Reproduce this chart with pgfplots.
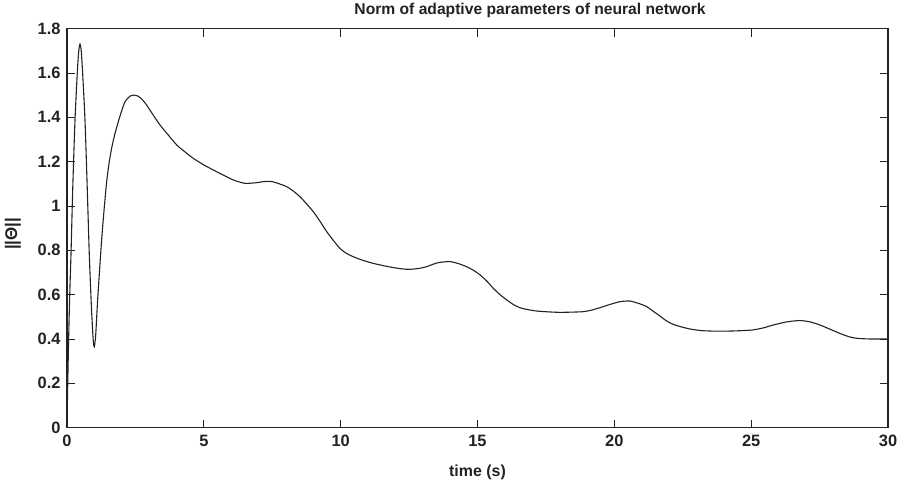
\documentclass[border=0pt]{standalone}
\usepackage{fontspec}
\setmainfont{Liberation Sans}
\usepackage{pgfplots}
\pgfplotsset{compat=1.18}

\definecolor{ink}{HTML}{222222}

\begin{document}
\begin{tikzpicture}
\begin{axis}[
    scale only axis,
    width=821bp,
    height=399bp,
    xmin=0, xmax=30,
    ymin=0, ymax=1.8,
    xtick={0,5,10,15,20,25,30},
    ytick={0,0.2,0.4,0.6,0.8,1,1.2,1.4,1.6,1.8},
    yticklabels={0,0.2,0.4,0.6,0.8,1,1.2,1.4,1.6,1.8},
    tick align=inside,
    major tick length=8bp,
    axis line style={ink, line width=1.2bp},
    tick style={ink, line width=0.8bp},
    /pgf/number format/assume math mode=true,
    tick label style={font=\fontsize{16.5}{18}\selectfont\bfseries, text=ink},
    xticklabel style={yshift=-4bp},
    yticklabel style={xshift=-3bp},
    title={Norm of adaptive parameters of neural network},
    title style={at={(axis description cs:0.564,1.02)}, anchor=base,
        font=\fontsize{15.7}{18}\selectfont\bfseries, text=ink},
    xlabel={time (s)},
    xlabel style={at={(axis description cs:0.5,-0.1228)}, anchor=base,
        font=\fontsize{16}{18}\selectfont\bfseries, text=ink},
    ylabel={||Θ||},
    ylabel style={at={(axis description cs:-0.0658,0.486)}, anchor=center,
        rotate=0, font=\fontsize{17}{18}\selectfont\bfseries, text=ink},
]
\addplot[ink, line width=1.1bp, smooth, tension=0.4] coordinates {
    (0,0) (0.02,0.15) (0.06,0.4) (0.1,0.6) (0.15,0.8) (0.21,1.08)
    (0.29,1.38) (0.38,1.61) (0.43,1.70) (0.475,1.73) (0.52,1.70)
    (0.58,1.58) (0.66,1.38) (0.74,1.08) (0.815,0.78) (0.89,0.55)
    (0.96,0.39) (1.0,0.365) (1.05,0.42) (1.11,0.555) (1.19,0.71)
    (1.27,0.854) (1.36,0.99) (1.45,1.11) (1.54,1.195) (1.63,1.26)
    (1.75,1.325) (1.875,1.38) (2.0,1.43) (2.12,1.47) (2.3,1.495)
    (2.45,1.50) (2.6,1.495) (2.75,1.48) (2.91,1.455) (3.15,1.41)
    (3.40,1.365) (3.7,1.32) (4.01,1.275) (4.3,1.245) (4.61,1.215)
    (5.0,1.185) (5.35,1.162) (5.7,1.14) (6.08,1.117) (6.5,1.102)
    (6.93,1.105) (7.2,1.11) (7.48,1.11) (7.75,1.10) (8.03,1.087)
    (8.27,1.067) (8.51,1.042) (8.75,1.01) (9.0,0.974) (9.25,0.93)
    (9.49,0.884) (9.73,0.845) (9.97,0.809) (10.2,0.787) (10.46,0.771)
    (10.8,0.755) (11.19,0.741) (11.55,0.731) (11.92,0.722) (12.25,0.716)
    (12.53,0.714) (12.9,0.719) (13.14,0.726) (13.38,0.737) (13.6,0.745)
    (13.99,0.749) (14.3,0.74) (14.60,0.726) (14.85,0.71) (15.09,0.689)
    (15.35,0.66) (15.58,0.628) (15.82,0.6) (16.07,0.576) (16.3,0.556)
    (16.55,0.541) (16.85,0.532) (17.16,0.526) (17.6,0.522) (18.01,0.520)
    (18.45,0.521) (18.86,0.523) (19.17,0.53) (19.47,0.541) (19.85,0.556)
    (20.2,0.568) (20.57,0.571) (20.94,0.558) (21.18,0.546) (21.42,0.525)
    (21.67,0.503) (21.91,0.481) (22.15,0.466) (22.40,0.456) (22.8,0.444)
    (23.25,0.437) (23.8,0.435) (24.35,0.436) (24.75,0.438) (25.08,0.441)
    (25.45,0.45) (25.81,0.463) (26.3,0.477) (26.78,0.483) (27.15,0.477)
    (27.51,0.463) (27.9,0.443) (28.24,0.425) (28.55,0.411) (28.85,0.403)
    (29.3,0.40) (30,0.40)
};
\end{axis}
\path (-67bp,-55bp) rectangle (838bp,426bp);
\end{tikzpicture}
\end{document}
